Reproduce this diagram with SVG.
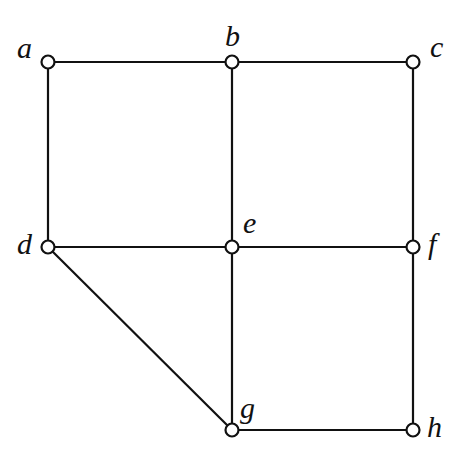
<svg xmlns="http://www.w3.org/2000/svg" width="461" height="450" viewBox="0 0 461 450">
<style>
.e{stroke:#111;stroke-width:2.2;fill:none}
.n{fill:#fff;stroke:#111;stroke-width:2.2}
.l{font-family:"Liberation Serif",serif;font-style:italic;font-size:30px;fill:#111}
</style>
<rect width="461" height="450" fill="#fff"/>
<g id="edges">
<line class="e" x1="48" y1="62" x2="413" y2="62"/>
<line class="e" x1="48" y1="247" x2="413" y2="247"/>
<line class="e" x1="232" y1="430" x2="413" y2="430"/>
<line class="e" x1="48" y1="62" x2="48" y2="247"/>
<line class="e" x1="232" y1="62" x2="232" y2="430"/>
<line class="e" x1="413" y1="62" x2="413" y2="430"/>
<line class="e" x1="48" y1="247" x2="232" y2="430"/>
</g>
<g id="a"><circle class="n" cx="48" cy="62" r="6.5"/><text class="l" x="17" y="58">a</text></g>
<g id="b"><circle class="n" cx="232" cy="62" r="6.5"/><text class="l" x="225" y="46">b</text></g>
<g id="c"><circle class="n" cx="413" cy="62" r="6.5"/><text class="l" x="430" y="57">c</text></g>
<g id="d"><circle class="n" cx="48" cy="247" r="6.5"/><text class="l" x="17" y="254">d</text></g>
<g id="e"><circle class="n" cx="232" cy="247" r="6.5"/><text class="l" x="243" y="233">e</text></g>
<g id="f"><circle class="n" cx="413" cy="247" r="6.5"/><text class="l" x="428" y="254">f</text></g>
<g id="g"><circle class="n" cx="232" cy="430" r="6.5"/><text class="l" x="240" y="418">g</text></g>
<g id="h"><circle class="n" cx="413" cy="430" r="6.5"/><text class="l" x="427" y="437">h</text></g>
</svg>
